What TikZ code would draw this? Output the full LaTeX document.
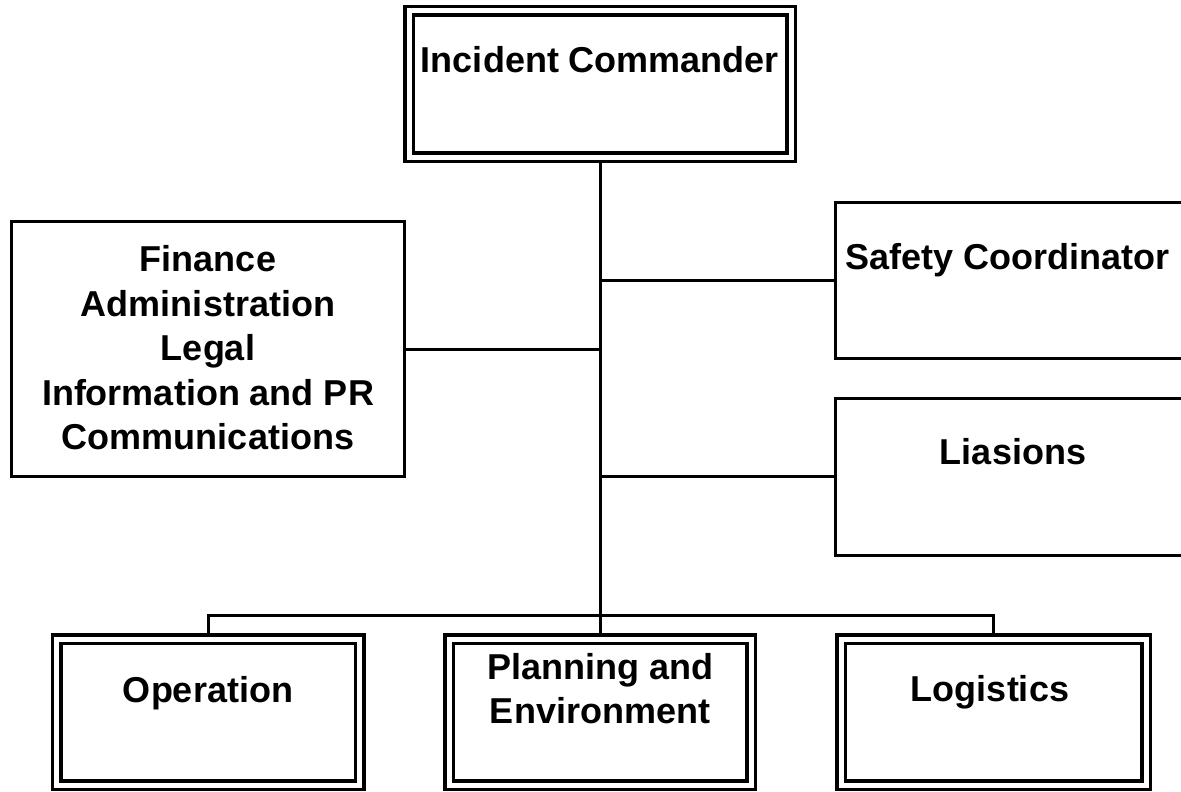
\documentclass[tikz,border=0pt]{standalone}
\usepackage{fontspec}
\setmainfont{Liberation Sans}
\usetikzlibrary{backgrounds}
\begin{document}
\begin{tikzpicture}[x=1pt,y=-1pt,
  dbox/.style={draw=black, line width=3.5pt, double=white, double distance=5pt,
    minimum width=#1, minimum height=146pt, inner sep=0pt, outer sep=0pt},
  sbox/.style={draw=black, line width=3pt, inner sep=0pt, outer sep=0pt},
  lab/.style={font=\bfseries\fontsize{36}{44.5}\selectfont, inner sep=0pt, align=center},
  conn/.style={draw=black, line width=3pt}]
\useasboundingbox (0,0) rectangle (1181,792);
\clip (0,0) rectangle (1181,792);
% boxes
\node[dbox=382pt] (ic) at (600,84) {};
\node[dbox=303pt] (op) at (208,712) {};
\node[dbox=302pt] (pe) at (600,712) {};
\node[dbox=305pt] (lo) at (993.5,712) {};
\node[sbox, minimum width=392.3pt, minimum height=255pt] (fin) at (207.9,349) {};
\node[sbox, minimum width=350pt, minimum height=156pt] (sc) at (1010,280) {};
\node[sbox, minimum width=350pt, minimum height=157pt] (li) at (1010,476.5) {};
% texts
\node[lab, anchor=base] (tic) at (600,73) {Incident Commander};
\node[lab] (tfin) at (208,348) {Finance\\Administration\\Legal\\Information and PR\\Communications};
\node[lab, anchor=base] (tsc) at (1007.5,269) {Safety Coordinator};
\node[lab, anchor=base] (tli) at (1013,464) {Liasions};
\node[lab, anchor=base] (top) at (208,702) {Operation};
\node[lab] (tpe) at (600,688.5) {Planning and\\Environment};
\node[lab, anchor=base] (tlo) at (990,701) {Logistics};
% connectors
\begin{scope}[on background layer]
\coordinate (bus) at (600,615);
\draw[conn] (ic.south) -- (bus);
\draw[conn] (fin.east) -- (fin.east -| ic.south);
\draw[conn] (sc.west) -- (sc.west -| ic.south);
\draw[conn] (li.west) -- (li.west -| ic.south);
\draw[conn] (op.north) -- (op.north |- bus) -- (lo.north |- bus) -- (lo.north);
\draw[conn] (bus) -- (pe.north);
\end{scope}
\end{tikzpicture}
\end{document}
